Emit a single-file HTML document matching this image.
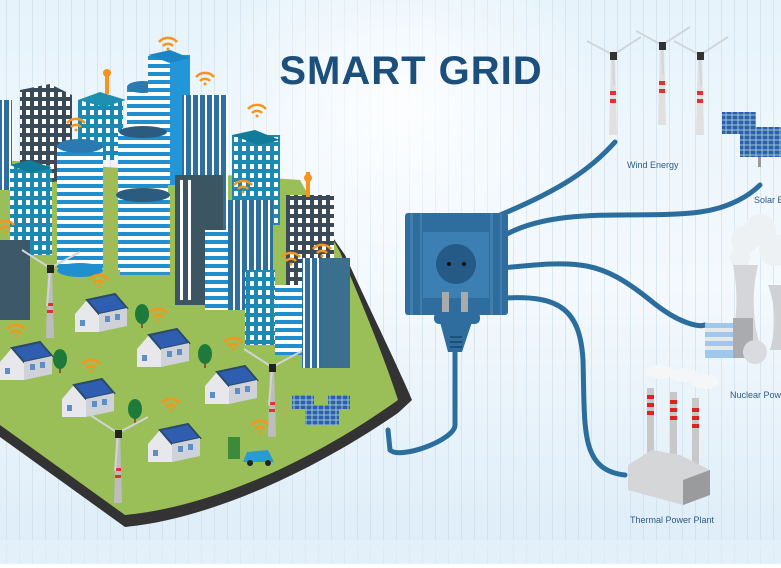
<!DOCTYPE html>
<html><head><meta charset="utf-8"><style>
html,body{margin:0;padding:0;width:781px;height:568px;overflow:hidden}
svg{display:block}
text{font-family:"Liberation Sans",sans-serif}
</style></head><body>
<svg width="781" height="568" viewBox="0 0 781 568" xmlns="http://www.w3.org/2000/svg">
<defs>
<linearGradient id="bg" x1="0" y1="0" x2="0" y2="1">
<stop offset="0" stop-color="#e6f3fb"/><stop offset="0.5" stop-color="#f4f9fd"/><stop offset="1" stop-color="#dcecf8"/></linearGradient>
<radialGradient id="glow" cx="0.5" cy="0.3" r="0.5"><stop offset="0" stop-color="#fff" stop-opacity="0.9"/><stop offset="1" stop-color="#fff" stop-opacity="0"/></radialGradient>
<pattern id="vl" width="13" height="568" patternUnits="userSpaceOnUse"><rect x="6" width="1" height="568" fill="#c9dcea" opacity="0.6"/></pattern>
<pattern id="stripe" width="10" height="8" patternUnits="userSpaceOnUse"><rect width="10" height="8" fill="#1f8fd0"/><rect y="4" width="10" height="4" fill="#fff"/></pattern>
<pattern id="win" width="8" height="9" patternUnits="userSpaceOnUse"><rect width="8" height="9" fill="#3a4a58"/><rect x="2" y="2" width="4" height="5" fill="#fff"/></pattern>
<pattern id="win2" width="8" height="9" patternUnits="userSpaceOnUse"><rect width="8" height="9" fill="#1c89b2"/><rect x="2" y="2" width="4" height="5" fill="#fff"/></pattern>
<pattern id="vstr" width="7" height="10" patternUnits="userSpaceOnUse"><rect width="7" height="10" fill="#2f6fa0"/><rect x="2" width="2" height="10" fill="#fff"/></pattern>
<pattern id="solar" width="6" height="5" patternUnits="userSpaceOnUse"><rect width="6" height="5" fill="#9cc"/><rect x="0.5" y="0.5" width="5" height="4" fill="#2f5db0"/></pattern>
<g id="wifi" fill="none" stroke="#f7941d" stroke-width="2.5"><path d="M-9,-3 A12,12 0 0 1 9,-3"/><path d="M-5,1 A7,7 0 0 1 5,1"/><circle cx="0" cy="4" r="1.5" fill="#f7941d" stroke="none"/></g>
<g id="house"><polygon points="0,14 12,0 24,14 24,32 0,32" fill="#e8e8ec"/><polygon points="12,0 40,-6 52,8 24,14" fill="#2f5db0" stroke="#2a4a6a" stroke-width="2"/><polygon points="24,14 52,8 52,26 24,32" fill="#cfd2d8"/><rect x="5" y="20" width="5" height="6" fill="#5b8fc6"/><rect x="30" y="16" width="5" height="6" fill="#5b8fc6"/><rect x="40" y="14" width="5" height="6" fill="#5b8fc6"/></g>
<g id="turb"><polygon points="-2,0 2,0 4,70 -4,70" fill="#bdbdbd"/><rect x="-3" y="35" width="6" height="3" fill="#d33"/><rect x="-3" y="42" width="6" height="3" fill="#d33"/><g stroke="#d0d4d8" stroke-width="2"><line x1="0" y1="0" x2="-28" y2="-18"/><line x1="0" y1="0" x2="30" y2="-16"/><line x1="0" y1="0" x2="-3" y2="38"/></g><rect x="-3" y="-3" width="7" height="8" fill="#222"/></g>
<g id="bigturb"><polygon points="-2,0 2,0 4,80 -4,80" fill="#e0e0e0"/><rect x="-3" y="36" width="6" height="4" fill="#d33"/><rect x="-3" y="44" width="6" height="4" fill="#d33"/><g stroke="#cfd6dc" stroke-width="2"><line x1="0" y1="0" x2="-26" y2="-14"/><line x1="0" y1="0" x2="28" y2="-18"/><line x1="0" y1="0" x2="1" y2="30"/></g><rect x="-3" y="-3" width="7" height="8" fill="#333"/></g>
<g id="tree"><rect x="-1" y="6" width="2" height="12" fill="#8a5a2b"/><ellipse cx="0" cy="4" rx="7" ry="10" fill="#1e7a3a"/></g>
</defs>
<rect width="781" height="568" fill="url(#bg)"/>
<rect width="781" height="545" fill="url(#vl)"/>
<rect x="200" y="0" width="400" height="360" fill="url(#glow)"/>
<rect y="540" width="781" height="28" fill="#e3f0fa"/>
<rect y="546" width="781" height="22" fill="url(#vl)" opacity="0.5"/>
<rect y="564" width="781" height="4" fill="#fff"/>

<text x="411" y="84" font-size="40" font-weight="bold" fill="#1d4f7c" text-anchor="middle" letter-spacing="1">SMART GRID</text>

<!-- island -->
<path d="M0,437 L125,527 C200,520 300,480 398,413 L412,400 C395,360 370,310 345,255 L300,190 L0,170 Z" fill="#333"/>
<path d="M0,425 L125,515 C200,508 300,470 398,400 C385,360 365,310 340,252 L300,180 L0,160 Z" fill="#9bbf58"/>

<!-- cables -->
<g fill="none" stroke="#2b6d9c" stroke-width="5" stroke-linecap="round">
<path d="M455,350 L455,425 C455,440 400,460 390,450 L388,430"/>
<path d="M500,215 C560,190 590,170 615,142"/>
<path d="M505,235 C560,205 640,220 700,212 C730,208 750,195 760,185"/>
<path d="M502,268 C580,260 600,260 650,300 C680,325 700,327 705,325"/>
<path d="M505,298 C560,295 580,310 583,360 C585,430 580,470 625,475"/>
</g>

<!-- buildings -->
<rect x="0" y="100" width="12" height="90" fill="url(#vstr)"/>
<polygon points="20,90 50,84 72,95 72,180 20,185" fill="url(#win)"/>
<rect x="10" y="165" width="42" height="90" fill="url(#win2)"/>
<polygon points="10,165 30,160 52,168 30,173" fill="#137b9a"/>
<rect x="0" y="240" width="30" height="80" fill="#3d5868"/>
<rect x="78" y="100" width="45" height="60" fill="url(#win2)"/>
<polygon points="78,100 100,92 126,100 104,107" fill="#1d8fb0"/>
<rect x="105" y="72" width="4" height="22" fill="#f7941d"/>
<circle cx="107" cy="73" r="4" fill="#f7941d"/>
<rect x="127" y="85" width="32" height="100" fill="url(#stripe)"/>
<ellipse cx="143" cy="87" rx="16" ry="6" fill="#2b79b1"/>
<rect x="148" y="55" width="42" height="130" fill="url(#stripe)"/>
<rect x="170" y="55" width="20" height="130" fill="#2196d8"/>
<polygon points="148,55 170,50 190,58 170,63" fill="#1a86c6"/>
<rect x="57" y="145" width="46" height="125" fill="url(#stripe)"/>
<ellipse cx="80" cy="146" rx="23" ry="7" fill="#2b79b1"/>
<ellipse cx="80" cy="270" rx="23" ry="7" fill="#1f8fd0"/>
<rect x="118" y="130" width="50" height="140" fill="url(#stripe)"/>
<rect x="120" y="195" width="50" height="80" fill="url(#stripe)" opacity="0.9"/>
<ellipse cx="143" cy="195" rx="27" ry="7" fill="#2b5c80"/>
<ellipse cx="143" cy="132" rx="24" ry="6" fill="#2b5c80"/>
<rect x="182" y="95" width="46" height="140" fill="url(#vstr)"/>
<rect x="175" y="175" width="48" height="130" fill="#3c5563"/>
<rect x="180" y="180" width="3" height="120" fill="#fff"/><rect x="188" y="180" width="3" height="120" fill="#fff"/>
<rect x="232" y="135" width="48" height="90" fill="url(#win2)"/>
<polygon points="232,135 255,130 280,140 258,145" fill="#137b9a"/>
<rect x="205" y="230" width="28" height="80" fill="url(#stripe)"/>
<rect x="228" y="200" width="45" height="110" fill="url(#vstr)"/>
<rect x="286" y="195" width="48" height="100" fill="url(#win)"/>
<rect x="306" y="172" width="4" height="25" fill="#f7941d"/>
<circle cx="308" cy="178" r="4" fill="#f7941d"/>
<rect x="245" y="270" width="30" height="75" fill="url(#win2)"/>
<rect x="275" y="285" width="28" height="70" fill="url(#stripe)"/>
<rect x="302" y="258" width="48" height="110" fill="url(#vstr)"/>
<rect x="322" y="258" width="28" height="110" fill="#3a6f8e"/>

<!-- wifi -->
<g>
<use href="#wifi" x="168" y="45"/><use href="#wifi" x="205" y="80"/><use href="#wifi" x="257" y="112"/><use href="#wifi" x="76" y="126"/><use href="#wifi" x="243" y="188"/><use href="#wifi" x="291" y="260"/><use href="#wifi" x="322" y="252"/><use href="#wifi" x="5" y="228"/><use href="#wifi" x="99" y="282"/><use href="#wifi" x="16" y="332"/><use href="#wifi" x="158" y="316"/><use href="#wifi" x="91" y="367"/><use href="#wifi" x="233" y="345"/><use href="#wifi" x="171" y="406"/><use href="#wifi" x="260" y="428"/>
</g>

<!-- houses -->
<use href="#house" x="75" y="300"/>
<use href="#house" x="0" y="348"/>
<use href="#house" x="137" y="335"/>
<use href="#house" x="62" y="385"/>
<use href="#house" x="205" y="372"/>
<use href="#house" x="148" y="430"/>
<use href="#tree" x="60" y="355"/><use href="#tree" x="142" y="310"/><use href="#tree" x="205" y="350"/><use href="#tree" x="135" y="405"/>
<use href="#turb" x="50" y="268"/><use href="#turb" x="272" y="367"/><use href="#turb" x="118" y="433"/>
<rect x="292" y="395" width="22" height="14" fill="url(#solar)"/><rect x="328" y="395" width="22" height="14" fill="url(#solar)"/><rect x="305" y="405" width="34" height="20" fill="url(#solar)"/>
<rect x="228" y="437" width="12" height="22" fill="#3d8a3a"/>
<path d="M243,462 L247,452 L268,450 L274,462 Z" fill="#2a9bd0"/><circle cx="250" cy="463" r="3" fill="#222"/><circle cx="268" cy="463" r="3" fill="#222"/>

<!-- outlet -->
<rect x="405" y="213" width="103" height="102" rx="3" fill="#2e6d9e"/>
<g fill="#4b8abb" opacity="0.6"><rect x="410" y="213" width="3" height="102"/><rect x="420" y="213" width="2" height="102"/><rect x="490" y="213" width="3" height="102"/><rect x="500" y="213" width="2" height="102"/></g>
<rect x="423" y="232" width="66" height="66" fill="#3b7fb3"/>
<circle cx="456" cy="264" r="20" fill="#245a85"/>
<circle cx="449" cy="264" r="2" fill="#111"/><circle cx="464" cy="264" r="2" fill="#111"/>
<rect x="442" y="292" width="7" height="22" fill="#aaa"/><rect x="461" y="292" width="7" height="22" fill="#aaa"/>
<rect x="434" y="312" width="46" height="12" rx="5" fill="#2e6d9e"/>
<path d="M440,322 L472,322 L462,352 L448,352 Z" fill="#2e6d9e"/>
<g fill="#1e4f78"><rect x="450" y="336" width="12" height="2"/><rect x="450" y="341" width="12" height="2"/><rect x="450" y="346" width="12" height="2"/></g>

<!-- wind -->
<use href="#bigturb" x="613" y="55"/><use href="#bigturb" x="662" y="45"/><use href="#bigturb" x="700" y="55"/>
<text x="627" y="168" font-size="9" fill="#2d5a80">Wind Energy</text>
<rect x="722" y="112" width="34" height="22" fill="url(#solar)"/><rect x="740" y="127" width="41" height="30" fill="url(#solar)"/>
<rect x="758" y="157" width="3" height="10" fill="#999"/>
<text x="754" y="203" font-size="9" fill="#2d5a80">Solar E</text>
<g fill="#eef1f4"><circle cx="745" cy="240" r="14"/><circle cx="760" cy="230" r="16"/><circle cx="775" cy="250" r="16"/><circle cx="740" cy="258" r="10"/></g>
<path d="M733,265 L758,265 C752,290 752,320 760,345 L730,345 C738,320 738,290 733,265Z" fill="#d4d6d9"/>
<path d="M768,285 L781,285 L781,350 L770,350 C776,330 776,305 768,285Z" fill="#cfd1d4"/>
<rect x="705" y="323" width="28" height="35" fill="#9fc8ea"/>
<g fill="#e6e8ea"><rect x="705" y="328" width="28" height="4"/><rect x="705" y="337" width="28" height="4"/><rect x="705" y="346" width="28" height="4"/></g>
<rect x="733" y="318" width="20" height="40" fill="#a9abae"/>
<ellipse cx="755" cy="352" rx="12" ry="12" fill="#d9dbde"/>
<text x="730" y="398" font-size="9" fill="#2d5a80">Nuclear Pow</text>
<g fill="#f4f6f8"><ellipse cx="660" cy="372" rx="14" ry="7"/><ellipse cx="684" cy="375" rx="14" ry="7"/><ellipse cx="705" cy="382" rx="14" ry="7"/></g>
<rect x="647" y="388" width="7" height="80" fill="#c8c8c8"/><rect x="670" y="392" width="7" height="80" fill="#c8c8c8"/><rect x="692" y="398" width="7" height="75" fill="#c8c8c8"/>
<g fill="#d22"><rect x="647" y="395" width="7" height="4"/><rect x="647" y="403" width="7" height="4"/><rect x="647" y="411" width="7" height="4"/><rect x="670" y="400" width="7" height="4"/><rect x="670" y="408" width="7" height="4"/><rect x="670" y="416" width="7" height="4"/><rect x="692" y="408" width="7" height="4"/><rect x="692" y="416" width="7" height="4"/><rect x="692" y="424" width="7" height="4"/></g>
<polygon points="628,465 652,450 680,455 710,470 710,495 683,505 628,490" fill="#d5d6d8"/>
<polygon points="683,480 710,470 710,495 683,505" fill="#9a9b9d"/>
<text x="630" y="523" font-size="9" fill="#2d5a80">Thermal Power Plant</text>
</svg>
</body></html>
